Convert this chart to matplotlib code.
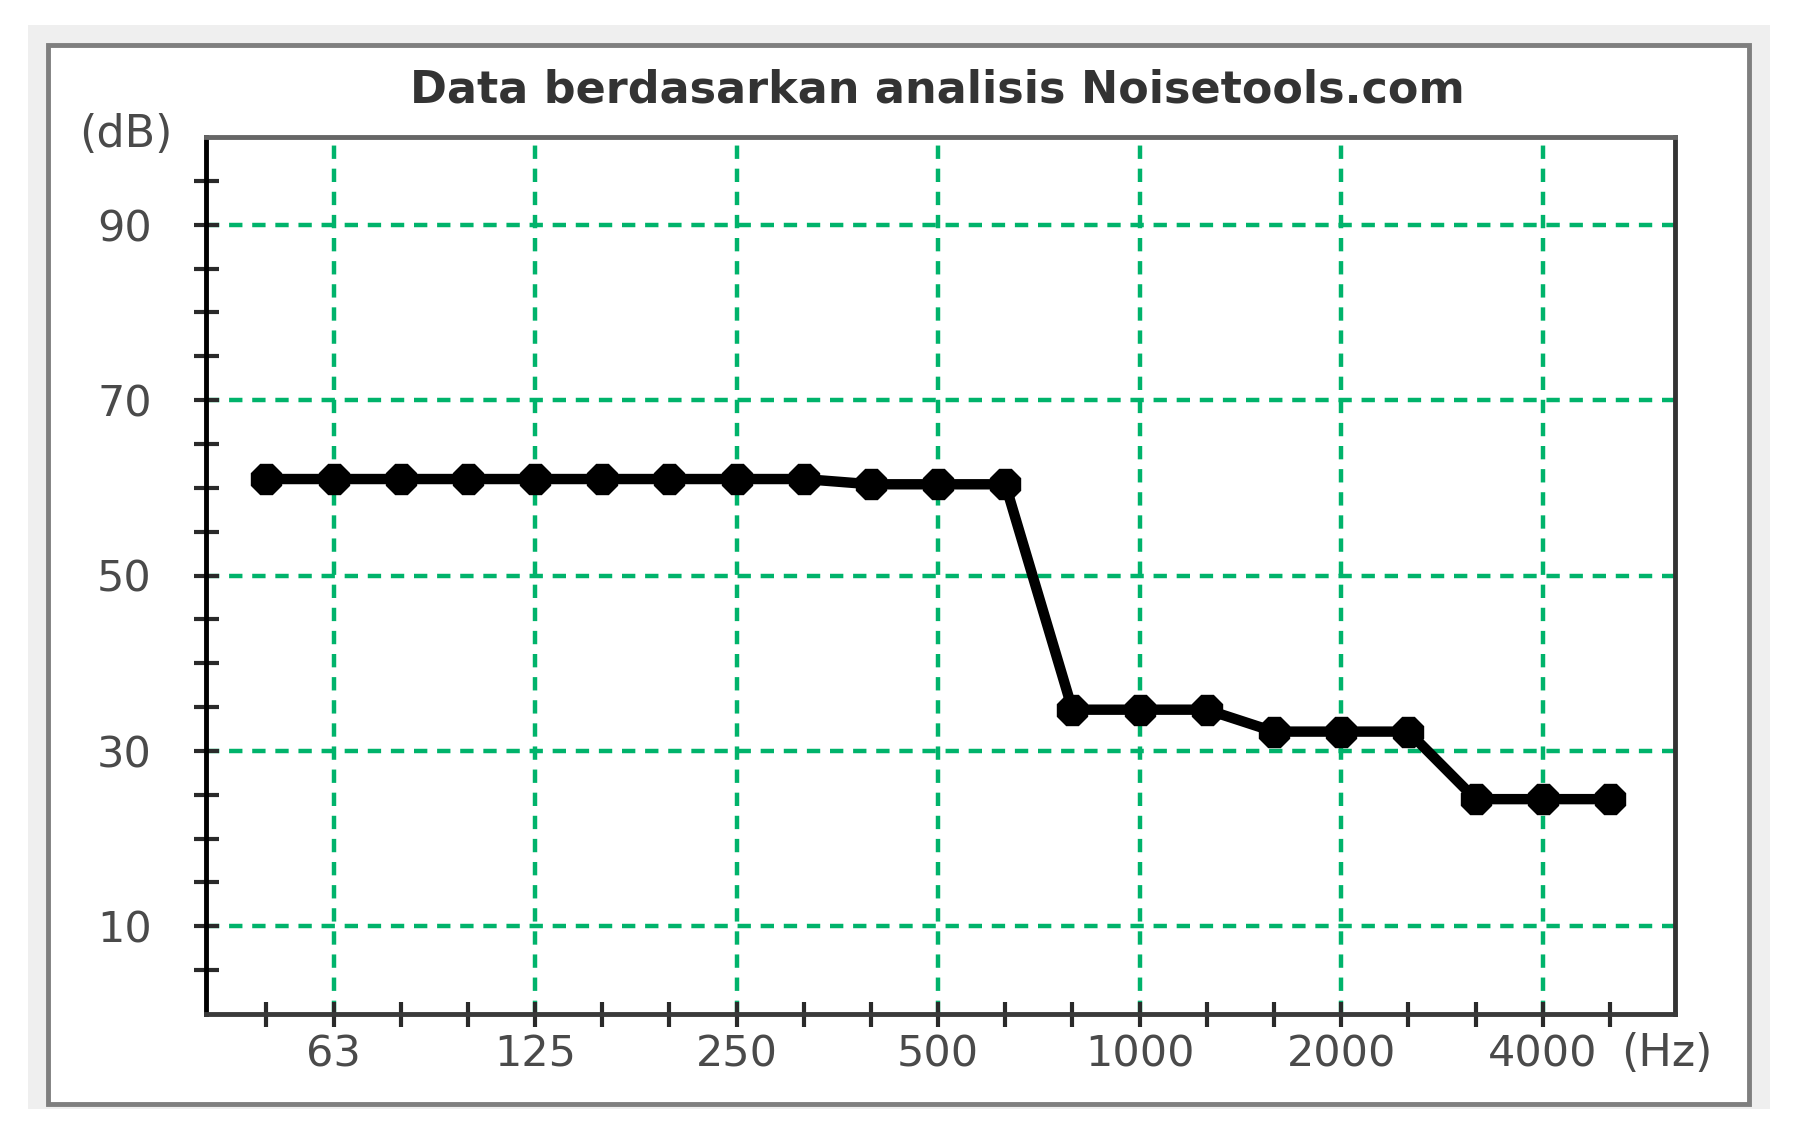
import numpy as np
import matplotlib.pyplot as plt
from matplotlib.patches import Rectangle

# 1/3 octave bands
bands = ["50", "63", "80", "100", "125", "160", "200", "250", "315", "400",
         "500", "630", "800", "1000", "1250", "1600", "2000", "2500",
         "3150", "4000", "5000"]
levels = [61, 61, 61, 61, 61, 61, 61, 61, 61, 60.4, 60.4, 60.4,
          34.7, 34.7, 34.7, 32.2, 32.2, 32.2, 24.5, 24.5, 24.5]
shown_bands = ["63", "125", "250", "500", "1000", "2000", "4000"]
y_labels = [10, 30, 50, 70, 90]
y_minor = [5, 15, 20, 25, 35, 40, 45, 55, 60, 65, 75, 80, 85, 95]

W, H = 1796, 1133
fig = plt.figure(figsize=(W / 100, H / 100), dpi=100)
fig.patch.set_facecolor("white")

# light grey surround and frame (pixel coordinates turned into fig fractions)
def px(x0, y0, x1, y1):
    return (x0 / W, 1 - y1 / H), (x1 - x0) / W, (y1 - y0) / H

xy, w, h = px(28, 25, 1770, 1109)
fig.patches.append(Rectangle(xy, w, h, transform=fig.transFigure,
                             facecolor="#efefef", edgecolor="none", zorder=-3))
xy, w, h = px(48, 45, 1749, 1104)
fig.patches.append(Rectangle(xy, w, h, transform=fig.transFigure,
                             facecolor="white", edgecolor="#7f7f7f",
                             linewidth=3.5, zorder=-2))

ax = fig.add_axes([206 / W, 1 - 1014 / H, (1675 - 206) / W, (1014 - 137) / H])
ax.set_zorder(2)
ax.set_facecolor("white")

x = np.arange(len(bands))
ax.plot(x, levels, color="black", lw=7.5, marker="8", ms=23, zorder=5)

ax.set_xlim(-0.9, 20.97)
ax.set_ylim(0, 100)

major_x = [bands.index(b) for b in shown_bands]
ax.set_xticks(major_x)
ax.set_xticklabels(shown_bands)
ax.set_xticks(x, minor=True)
ax.set_yticks(y_labels)
ax.set_yticks(y_minor, minor=True)

txt_col = "#4a4a4a"
ax.tick_params(axis="both", which="both", direction="inout", length=18,
               width=3, color="#2a2a2a", labelsize=31, labelcolor=txt_col)
ax.tick_params(axis="y", pad=30)
ax.tick_params(axis="x", pad=5)

ax.grid(True, which="major", color="#00b36b", linestyle=(0, (3, 2.2)), lw=3.2)

ax.spines["left"].set_color("black")
ax.spines["bottom"].set_color("#3a3a3a")
ax.spines["top"].set_color("#666666")
ax.spines["right"].set_color("#333333")
for s in ax.spines.values():
    s.set_linewidth(3.5)

fig.text(0.5217, 0.921, "Data berdasarkan analisis Noisetools.com",
         ha="center", va="center", fontsize=32, fontweight="bold", color="#333333")
fig.text(0.070, 0.881, "(dB)", ha="center", va="center", fontsize=32, color=txt_col)
fig.text(0.928, 0.070, "(Hz)", ha="center", va="center", fontsize=32, color=txt_col)

fig.savefig("out.png", dpi=100)
